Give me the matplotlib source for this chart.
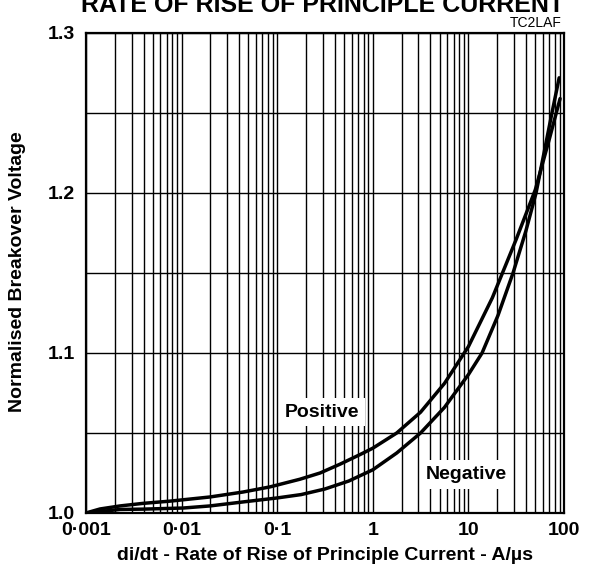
import matplotlib
matplotlib.use("Agg")
import matplotlib.pyplot as plt
from matplotlib.ticker import FixedLocator, LogLocator, NullFormatter
import numpy as np

plt.rcParams['font.family'] = ['Liberation Sans', 'DejaVu Sans']

# data
pos_x = [0.001, 0.0014, 0.00227, 0.00394, 0.00757, 0.0198, 0.0439, 0.084, 0.173, 0.281,
         0.454, 0.735, 1.0, 1.78, 3.16, 5.62, 10.0, 17.8, 31.6, 50.1, 70.8, 91.0]
pos_y = [1.000, 1.0025, 1.0044, 1.0060, 1.0074, 1.0100, 1.0131, 1.0163, 1.0211, 1.0250,
         1.0305, 1.0365, 1.0405, 1.0500, 1.0630, 1.0810, 1.1040, 1.1345, 1.1710, 1.2020,
         1.2345, 1.2590]
neg_x = [0.001, 0.00227, 0.00394, 0.0104, 0.0198, 0.0439, 0.1, 0.178, 0.316, 0.562,
         1.0, 1.78, 3.16, 5.62, 10.0, 13.9, 20.4, 29.3, 39.8, 51.0, 74.8, 89.0]
neg_y = [1.000, 1.0022, 1.0024, 1.0031, 1.0044, 1.0069, 1.0094, 1.0115, 1.0150, 1.0200,
         1.0270, 1.0375, 1.0500, 1.0660, 1.0865, 1.1000, 1.1235, 1.1500, 1.1760, 1.2000,
         1.2500, 1.2720]

x_ticks = [0.001, 0.01, 0.1, 1, 10, 100]
x_tick_labels = ['0·001', '0·01', '0·1', '1', '10', '100']
y_ticks = [1.0, 1.1, 1.2, 1.3]
y_tick_labels = ['1.0', '1.1', '1.2', '1.3']

fig = plt.figure(figsize=(5.94, 5.82), dpi=100)
ax = fig.add_axes([0.1448, 0.1186, 0.8047, 0.8247])
ax.set_xscale('log')
ax.set_xlim(0.001, 100)
ax.set_ylim(1.0, 1.3)

ax.xaxis.set_major_locator(FixedLocator(x_ticks))
ax.xaxis.set_minor_locator(LogLocator(base=10, subs=np.arange(2, 10)))
ax.xaxis.set_minor_formatter(NullFormatter())
ax.set_xticklabels(x_tick_labels)
ax.yaxis.set_major_locator(FixedLocator(y_ticks))
ax.yaxis.set_minor_locator(FixedLocator([1.05, 1.15, 1.25]))
ax.set_yticklabels(y_tick_labels)

ax.grid(True, which='both', color='black', linewidth=1.0)
ax.tick_params(axis='x', which='both', length=0, pad=6.5)
ax.tick_params(axis='y', which='both', length=0, pad=8)
for lab in ax.get_xticklabels() + ax.get_yticklabels():
    lab.set_fontweight('bold')
    lab.set_fontsize(14)
for s in ax.spines.values():
    s.set_linewidth(1.6)
    s.set_zorder(5)

ax.plot(pos_x, pos_y, color='black', linewidth=2.5, zorder=4,
        solid_joinstyle='round', solid_capstyle='round')
ax.plot(neg_x, neg_y, color='black', linewidth=2.5, zorder=4,
        solid_joinstyle='round', solid_capstyle='round')

bbox = dict(facecolor='white', edgecolor='none', pad=4)
ax.text(0.294, 1.063, 'Positive', fontsize=14, fontweight='bold', ha='center', va='center',
        bbox=bbox, zorder=3)
ax.text(9.4, 1.024, 'Negative', fontsize=14, fontweight='bold', ha='center', va='center',
        bbox=bbox, zorder=3)

fig.text(325 / 594, 1 - 556 / 582, 'di/dt - Rate of Rise of Principle Current - A/µs',
         fontsize=14, fontweight='bold', ha='center', va='center')
fig.text(18 / 594, 1 - 272 / 582, 'Normalised Breakover Voltage', fontsize=14,
         fontweight='bold', ha='center', va='center', rotation=90)

fig.text(323 / 594, 1 - 12 / 582, 'RATE OF RISE OF PRINCIPLE CURRENT', fontsize=18,
         fontweight='bold', ha='center', va='baseline')
fig.text(562 / 594, 1 - 27 / 582, 'TC2LAF', fontsize=10, ha='right', va='baseline')

fig.savefig('out.png', dpi=100)
